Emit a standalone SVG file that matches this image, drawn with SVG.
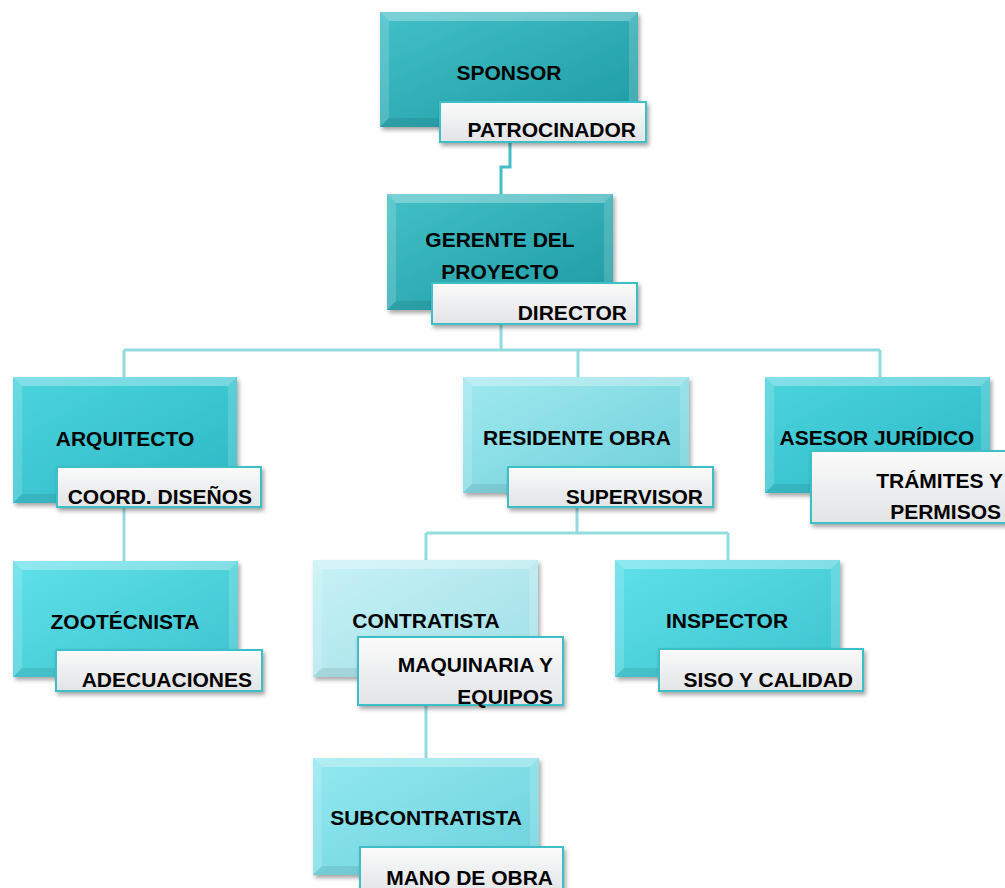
<svg xmlns="http://www.w3.org/2000/svg" width="1005" height="888" viewBox="0 0 1005 888">
<defs>
<filter id="sh" x="-10%" y="-10%" width="130%" height="140%"><feDropShadow dx="2" dy="3" stdDeviation="2" flood-color="#000" flood-opacity="0.35"/></filter>
<linearGradient id="gDark" x1="0" y1="0" x2="1" y2="1"><stop offset="0" stop-color="#42c0c8"/><stop offset="1" stop-color="#1e9aa3"/></linearGradient>
<linearGradient id="gMid" x1="0" y1="0" x2="1" y2="1"><stop offset="0" stop-color="#4cd4de"/><stop offset="1" stop-color="#2bb8c4"/></linearGradient>
<linearGradient id="gBright" x1="0" y1="0" x2="1" y2="1"><stop offset="0" stop-color="#5fe0ea"/><stop offset="1" stop-color="#3cc4ce"/></linearGradient>
<linearGradient id="gLight" x1="0" y1="0" x2="1" y2="1"><stop offset="0" stop-color="#a0e9f0"/><stop offset="1" stop-color="#6ecfd9"/></linearGradient>
<linearGradient id="gPale" x1="0" y1="0" x2="1" y2="1"><stop offset="0" stop-color="#c8f2f6"/><stop offset="1" stop-color="#9edfe6"/></linearGradient>
<linearGradient id="gSub" x1="0" y1="0" x2="1" y2="1"><stop offset="0" stop-color="#92e8f0"/><stop offset="1" stop-color="#6cd2dc"/></linearGradient>
<linearGradient id="gLbl" x1="0" y1="0" x2="0" y2="1"><stop offset="0" stop-color="#fbfbfb"/><stop offset="0.5" stop-color="#eeeff0"/><stop offset="1" stop-color="#e2e4e5"/></linearGradient>
</defs>
<style>
.t{font-family:"Liberation Sans",Arial,sans-serif;font-weight:bold;font-size:21px;fill:#000}
.e{text-anchor:end}
.m{text-anchor:middle}
.lbl{fill:url(#gLbl);stroke:#3ebfc8;stroke-width:2;filter:url(#sh)}
.hi{fill:#fff;opacity:0.3}
.hi2{fill:#fff;opacity:0.16}
.dk{fill:#000;opacity:0.08}
.c{fill:none;stroke:#94dbe0;stroke-width:3}
.c0{fill:none;stroke:#45bfc7;stroke-width:3}
</style>
<g id="connectors">
<path class="c0" d="M510,142 V167 H501 V196"/>
<path class="c" d="M501,324 V350 M124,350 H880 M124,350 V378 M578,350 V378 M880,350 V378"/>
<path class="c" d="M124,507 V562"/>
<path class="c" d="M577,507 V533 M426,533 H728 M426,533 V561 M728,533 V561"/>
<path class="c" d="M426,705 V759"/>
</g>
<g id="sponsor">
<rect x="380" y="12" width="258" height="115" fill="url(#gDark)" filter="url(#sh)"/>
<polygon class="hi" points="380,12 638,12 629,21 389,21"/>
<polygon class="hi2" points="380,12 389,21 389,118 380,127"/>
<polygon class="hi2" points="638,12 638,127 629,118 629,21"/>
<polygon class="dk" points="380,127 638,127 629,118 389,118"/>
<text class="t m" x="509" y="80">SPONSOR</text>
<rect class="lbl" x="440" y="102" width="206" height="40"/>
<text class="t e" x="636" y="137">PATROCINADOR</text>
</g>
<g id="gerente">
<rect x="387" y="194" width="226" height="116" fill="url(#gDark)" filter="url(#sh)"/>
<polygon class="hi" points="387,194 613,194 604,203 396,203"/>
<polygon class="hi2" points="387,194 396,203 396,301 387,310"/>
<polygon class="hi2" points="613,194 613,310 604,301 604,203"/>
<polygon class="dk" points="387,310 613,310 604,301 396,301"/>
<text class="t m" x="500" y="247">GERENTE DEL</text>
<text class="t m" x="500" y="279">PROYECTO</text>
<rect class="lbl" x="432" y="283" width="205" height="41"/>
<text class="t e" x="627" y="320">DIRECTOR</text>
</g>
<g id="arquitecto">
<rect x="13" y="377" width="224" height="126" fill="url(#gMid)" filter="url(#sh)"/>
<polygon class="hi" points="13,377 237,377 228,386 22,386"/>
<polygon class="hi2" points="13,377 22,386 22,494 13,503"/>
<polygon class="hi2" points="237,377 237,503 228,494 228,386"/>
<polygon class="dk" points="13,503 237,503 228,494 22,494"/>
<text class="t m" x="125" y="446">ARQUITECTO</text>
<rect class="lbl" x="57" y="467" width="204" height="40"/>
<text class="t e" x="252" y="504">COORD. DISEÑOS</text>
</g>
<g id="residente">
<rect x="463" y="377" width="226" height="116" fill="url(#gLight)" filter="url(#sh)"/>
<polygon class="hi" points="463,377 689,377 680,386 472,386"/>
<polygon class="hi2" points="463,377 472,386 472,484 463,493"/>
<polygon class="hi2" points="689,377 689,493 680,484 680,386"/>
<polygon class="dk" points="463,493 689,493 680,484 472,484"/>
<text class="t m" x="577" y="445">RESIDENTE OBRA</text>
<rect class="lbl" x="508" y="467" width="205" height="40"/>
<text class="t e" x="703" y="504">SUPERVISOR</text>
</g>
<g id="asesor">
<rect x="765" y="377" width="225" height="116" fill="url(#gMid)" filter="url(#sh)"/>
<polygon class="hi" points="765,377 990,377 981,386 774,386"/>
<polygon class="hi2" points="765,377 774,386 774,484 765,493"/>
<polygon class="hi2" points="990,377 990,493 981,484 981,386"/>
<polygon class="dk" points="765,493 990,493 981,484 774,484"/>
<text class="t m" x="877" y="445">ASESOR JURÍDICO</text>
<rect class="lbl" x="811" y="451" width="202" height="72"/>
<text class="t e" x="1003" y="488">TRÁMITES Y</text>
<text class="t e" x="1001" y="519">PERMISOS</text>
</g>
<g id="zootecnista">
<rect x="13" y="561" width="225" height="116" fill="url(#gBright)" filter="url(#sh)"/>
<polygon class="hi" points="13,561 238,561 229,570 22,570"/>
<polygon class="hi2" points="13,561 22,570 22,668 13,677"/>
<polygon class="hi2" points="238,561 238,677 229,668 229,570"/>
<polygon class="dk" points="13,677 238,677 229,668 22,668"/>
<text class="t m" x="125" y="629">ZOOTÉCNISTA</text>
<rect class="lbl" x="56" y="650" width="206" height="41"/>
<text class="t e" x="252" y="687">ADECUACIONES</text>
</g>
<g id="contratista">
<rect x="313" y="560" width="225" height="117" fill="url(#gPale)" filter="url(#sh)"/>
<polygon class="hi" points="313,560 538,560 529,569 322,569"/>
<polygon class="hi2" points="313,560 322,569 322,668 313,677"/>
<polygon class="hi2" points="538,560 538,677 529,668 529,569"/>
<polygon class="dk" points="313,677 538,677 529,668 322,668"/>
<text class="t m" x="426" y="628">CONTRATISTA</text>
<rect class="lbl" x="358" y="637" width="205" height="68"/>
<text class="t e" x="553" y="672">MAQUINARIA Y</text>
<text class="t e" x="553" y="704">EQUIPOS</text>
</g>
<g id="inspector">
<rect x="615" y="560" width="225" height="117" fill="url(#gBright)" filter="url(#sh)"/>
<polygon class="hi" points="615,560 840,560 831,569 624,569"/>
<polygon class="hi2" points="615,560 624,569 624,668 615,677"/>
<polygon class="hi2" points="840,560 840,677 831,668 831,569"/>
<polygon class="dk" points="615,677 840,677 831,668 624,668"/>
<text class="t m" x="727" y="628">INSPECTOR</text>
<rect class="lbl" x="659" y="649" width="204" height="42"/>
<text class="t e" x="853" y="687">SISO Y CALIDAD</text>
</g>
<g id="subcontratista">
<rect x="313" y="758" width="226" height="117" fill="url(#gSub)" filter="url(#sh)"/>
<polygon class="hi" points="313,758 539,758 530,767 322,767"/>
<polygon class="hi2" points="313,758 322,767 322,866 313,875"/>
<polygon class="hi2" points="539,758 539,875 530,866 530,767"/>
<polygon class="dk" points="313,875 539,875 530,866 322,866"/>
<text class="t m" x="426" y="825">SUBCONTRATISTA</text>
<rect class="lbl" x="360" y="847" width="203" height="48"/>
<text class="t e" x="553" y="885">MANO DE OBRA</text>
</g>
</svg>
